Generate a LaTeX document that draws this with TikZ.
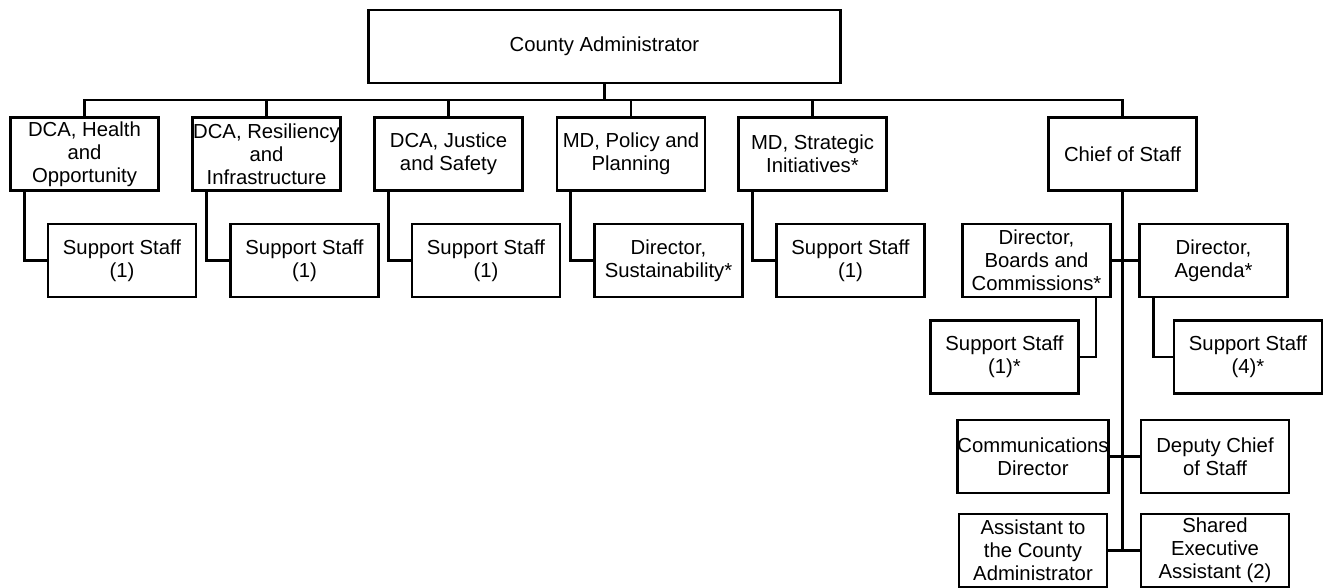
\documentclass[tikz,border=0pt]{standalone}
\usepackage{fontspec}
\setmainfont{Liberation Sans}
\begin{document}
\begin{tikzpicture}[x=1pt,y=-1pt,
  box/.style={draw, line width=2.6pt, minimum width=148pt, minimum height=73pt,
    inner sep=0pt, align=center, font=\fontsize{20.3pt}{23pt}\selectfont},
  link/.style={line width=2.6pt}]
\useasboundingbox (0,0) rectangle (1325,588);
% top
\node[box, minimum width=472pt] (ca) at (604.5,46.5) {County Administrator};
% level 2
\node[box] (h1) at (84.5,154) {DCA, Health\\and\\Opportunity};
\node[box] (h2) at (266.5,154) {DCA, Resiliency\\and\\Infrastructure};
\node[box] (h3) at (448.5,154) {DCA, Justice\\and Safety};
\node[box] (h4) at (631,154) {MD, Policy and\\Planning};
\node[box] (h5) at (812.5,154) {MD, Strategic\\Initiatives*};
\node[box] (h6) at (1122.5,154) {Chief of Staff};
% level 3
\node[box] (s1) at (122,260.5) {Support Staff\\(1)};
\node[box] (s2) at (304.5,260.5) {Support Staff\\(1)};
\node[box] (s3) at (486,260.5) {Support Staff\\(1)};
\node[box] (s4) at (668.5,260.5) {Director,\\Sustainability*};
\node[box] (s5) at (850.5,260.5) {Support Staff\\(1)};
% chief of staff subtree
\node[box] (b1) at (1036.5,260.5) {Director,\\Boards and\\Commissions*};
\node[box] (b2) at (1213.5,260.5) {Director,\\Agenda*};
\node[box] (bs1) at (1004.5,357) {Support Staff\\(1)*};
\node[box] (bs2) at (1248,357) {Support Staff\\(4)*};
\node[box] (c1) at (1033,456.5) {Communications\\Director};
\node[box] (c2) at (1215,456.5) {Deputy Chief\\of Staff};
\node[box] (d1) at (1033,550.5) {Assistant to\\the County\\Administrator};
\node[box] (d2) at (1215,550.5) {Shared\\Executive\\Assistant (2)};
% connectors
\coordinate (bus) at (604.5,100);
\draw[link] (ca.south) -- (ca.south |- bus);
\draw[link] (h1.north) -- (h1.north |- bus) -- (h6.north |- bus) -- (h6.north);
\foreach \n in {h2,h3,h4,h5} \draw[link] (\n.north) -- (\n.north |- bus);
\foreach \p/\c in {h1/s1,h2/s2,h3/s3,h4/s4,h5/s5}
  \draw[link] ([xshift=15pt]\p.south west) |- (\c.west);
\draw[link] (h6.south) -- (h6.south |- d1.east);
\draw[link] (b1.east) -- (b2.west);
\draw[link] (c1.east) -- (c2.west);
\draw[link] (d1.east) -- (d2.west);
\draw[link] ([xshift=-16pt]b1.south east) |- (bs1.east);
\draw[link] ([xshift=15pt]b2.south west) |- (bs2.west);
\end{tikzpicture}
\end{document}
